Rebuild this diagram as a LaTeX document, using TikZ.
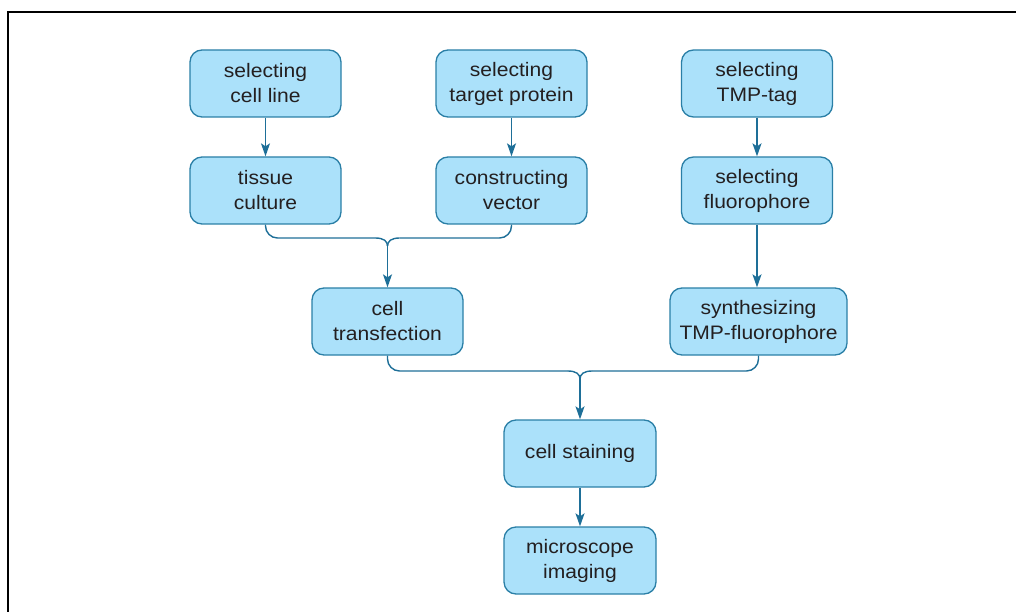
\documentclass[tikz,border=0pt]{standalone}
\usepackage{fontspec}
\setmainfont[FakeStretch=1.08]{Liberation Sans}
\usetikzlibrary{arrows.meta,calc}
\definecolor{boxfill}{HTML}{ABE1FA}
\definecolor{boxdraw}{HTML}{2A7FA6}
\definecolor{conncol}{HTML}{1E6F98}
\definecolor{txtcol}{HTML}{231F20}
\begin{document}
\begin{tikzpicture}[x=1pt,y=-1pt,
  stepbox/.style={draw=boxdraw,fill=boxfill,line width=1.3pt,rounded corners=12pt,
    minimum width=151pt,minimum height=67pt,align=center,inner sep=0pt,
    text=txtcol,font=\fontsize{19.5}{25}\selectfont},
  conn/.style={draw=conncol,line width=1.4pt},
  arr/.style={conn,-{Stealth[length=13pt,width=9pt,inset=3pt]}}]
\useasboundingbox (0,0) rectangle (1016,612);
\draw[line width=1.4pt] (8,612) -- (8,12) -- (1016,12);

\node[stepbox] (scl) at (265.5,83.5) {selecting\\cell line};
\node[stepbox] (stp) at (511.5,83.5) {selecting\\target protein};
\node[stepbox] (stt) at (757,83.5) {selecting\\TMP-tag};
\node[stepbox] (tc) at (265.5,190.5) {tissue\\culture};
\node[stepbox] (cv) at (511.5,190.5) {constructing\\vector};
\node[stepbox] (sf) at (757,190.5) {selecting\\fluorophore};
\node[stepbox] (ct) at (387.5,321.5) {cell\\transfection};
\node[stepbox,minimum width=177pt] (stf) at (758.5,321.5) {synthesizing\\TMP-fluorophore};
\node[stepbox,minimum width=152pt] (cs) at (580,453.5) {cell staining};
\node[stepbox,minimum width=152pt] (mi) at (580,560.5) {microscope\\imaging};

\draw[arr] (scl) -- (tc);
\draw[arr] (stp) -- (cv);
\draw[arr] (stt) -- (sf);
\draw[arr] (sf.south) -- (sf.south |- stf.north);
\draw[arr] (cs) -- (mi);

\coordinate (m1) at (387.5,246);
\coordinate (m2) at (580,379);

\draw[conn,rounded corners=12pt] (tc.south) |- ($(m1)+(-12,-8)$);
\draw[conn] ($(m1)+(-12.2,-8)$) .. controls ($(m1)+(-4,-8)$) and ($(m1)+(0,-5)$) .. (m1);
\draw[conn,rounded corners=12pt] (cv.south) |- ($(m1)+(12,-8)$);
\draw[conn] ($(m1)+(12.2,-8)$) .. controls ($(m1)+(4,-8)$) and ($(m1)+(0,-5)$) .. (m1);
\draw[arr] (m1) -- (ct.north);

\draw[conn,rounded corners=12pt] (ct.south) |- ($(m2)+(-12,-8)$);
\draw[conn] ($(m2)+(-12.2,-8)$) .. controls ($(m2)+(-4,-8)$) and ($(m2)+(0,-5)$) .. (m2);
\draw[conn,rounded corners=12pt] (stf.south) |- ($(m2)+(12,-8)$);
\draw[conn] ($(m2)+(12.2,-8)$) .. controls ($(m2)+(4,-8)$) and ($(m2)+(0,-5)$) .. (m2);
\draw[arr] (m2) -- (cs.north);
\end{tikzpicture}
\end{document}
